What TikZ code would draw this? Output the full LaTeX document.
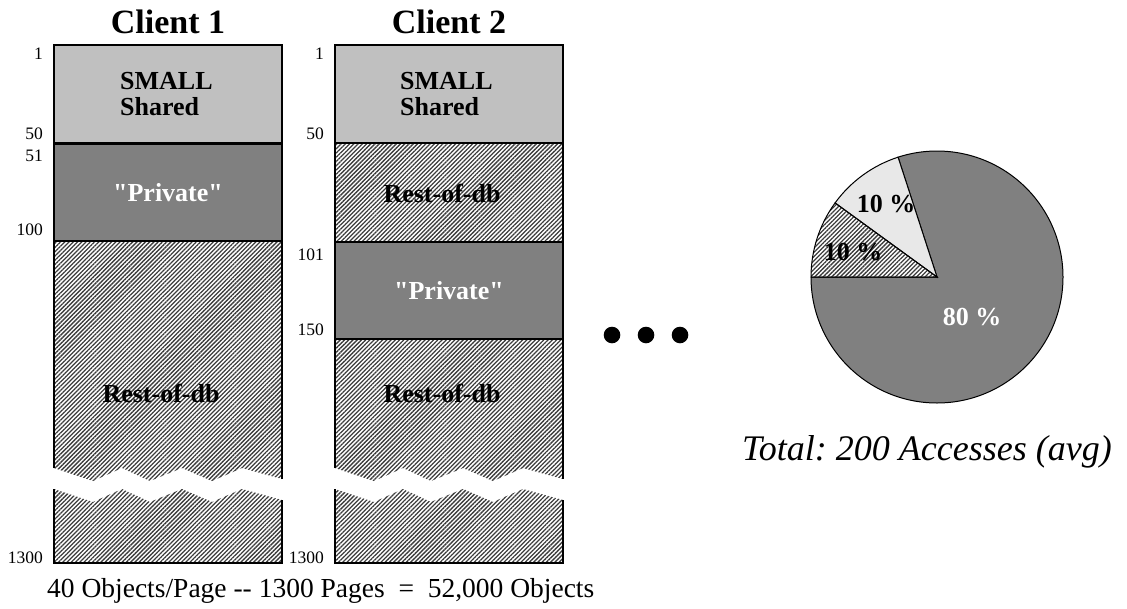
\documentclass[tikz,border=0pt]{standalone}
\usepackage{fontspec}
\setmainfont{Liberation Serif}
\newfontfamily\rawserif{Liberation Serif}[Ligatures=ResetAll]
\usetikzlibrary{patterns.meta}
\definecolor{sharedgray}{HTML}{C0C0C0}
\definecolor{privgray}{HTML}{808080}
\definecolor{lightslice}{HTML}{E8E8E8}
\definecolor{hatchgray}{HTML}{3C3C3C}
\frenchspacing
\newcommand{\dq}{{\rawserif\bfseries\symbol{34}}}
\tikzset{
  seg/.style={draw=black, line width=1.4pt},
  hatch/.style={pattern={Lines[angle=45,distance=3pt,line width=1.3pt]}, pattern color=hatchgray},
  coltitle/.style={font=\fontsize{34}{34}\selectfont\bfseries, anchor=base},
  boxtext/.style={font=\fontsize{26}{26}\selectfont\bfseries, inner sep=0pt},
  pagenum/.style={font=\fontsize{17.5}{17.5}\selectfont, anchor=east, inner sep=0pt},
  dotmark/.style={circle, fill=black, inner sep=0pt, minimum size=16.6pt},
  slice/.style={draw=black, line width=1pt},
}
\begin{document}
\begin{tikzpicture}[x=1pt,y=-1pt]
\useasboundingbox (0,0) rectangle (1127,608);

% ---------- Client 1 ----------
\begin{scope}[shift={(54,0)}]
  \node[coltitle] (title1) at (114,33) {Client 1};
  \path[fill=sharedgray, seg] (0,45) rectangle (228,143);
  \path[fill=privgray, seg] (0,144) rectangle (228,241);
  % upper part of the remaining pages, torn at the bottom
  \fill[hatch] (0,241) -- (228,241) -- (228,479) -- (188,468) -- (158,481) -- (128,468)
       -- (96,481) -- (68,468) -- (39,481) -- (0,468) -- cycle;
  \draw[seg] (0,468) -- (0,241) -- (228,241) -- (228,479);
  % lower part, torn at the top
  \fill[hatch] (0,489) -- (39,502) -- (68,489) -- (96,502) -- (128,489) -- (158,502)
       -- (188,489) -- (228,500) -- (228,563) -- (0,563) -- cycle;
  \draw[seg] (0,489) -- (0,563) -- (228,563) -- (228,500);

  \node[boxtext, align=left, anchor=base west] (shared1) at (66,115) {SMALL\\Shared};
  \node[boxtext, text=white] (priv1) at (114,193) {\dq Private\dq};
  \node[boxtext] (rest1) at (107,393) {Rest-of-db};

  \node[pagenum] (c1p1) at (-11,54) {1};
  \node[pagenum] (c1p50) at (-11,134) {50};
  \node[pagenum] (c1p51) at (-11,156) {51};
  \node[pagenum] (c1p100) at (-11,230) {100};
  \node[pagenum] (c1p1300) at (-11,558) {1300};
\end{scope}

% ---------- Client 2 ----------
\begin{scope}[shift={(335,0)}]
  \node[coltitle] (title2) at (114,33) {Client 2};
  \path[fill=sharedgray, seg] (0,45) rectangle (228,143);
  \path[hatch] (0,143) rectangle (228,242);
  \draw[seg] (0,143) rectangle (228,242);
  \path[fill=privgray, seg] (0,242) rectangle (228,339);
  \fill[hatch] (0,339) -- (228,339) -- (228,479) -- (188,468) -- (158,481) -- (128,468)
       -- (96,481) -- (68,468) -- (39,481) -- (0,468) -- cycle;
  \draw[seg] (0,468) -- (0,339) -- (228,339) -- (228,479);
  \fill[hatch] (0,489) -- (39,502) -- (68,489) -- (96,502) -- (128,489) -- (158,502)
       -- (188,489) -- (228,500) -- (228,563) -- (0,563) -- cycle;
  \draw[seg] (0,489) -- (0,563) -- (228,563) -- (228,500);

  \node[boxtext, align=left, anchor=base west] (shared2) at (65,115) {SMALL\\Shared};
  \node[boxtext] (rest2a) at (107,193) {Rest-of-db};
  \node[boxtext, text=white] (priv2) at (114,291) {\dq Private\dq};
  \node[boxtext] (rest2b) at (107,393) {Rest-of-db};

  \node[pagenum] (c2p1) at (-11,54) {1};
  \node[pagenum] (c2p50) at (-11,134) {50};
  \node[pagenum] (c2p101) at (-11,255) {101};
  \node[pagenum] (c2p150) at (-11,330) {150};
  \node[pagenum] (c2p1300) at (-11,558) {1300};
\end{scope}

% ---------- ellipsis ----------
\node[dotmark] (dotA) at (612,335) {};
\node[dotmark] (dotB) at (646,335) {};
\node[dotmark] (dotC) at (680,335) {};

% ---------- pie of accesses ----------
\begin{scope}[shift={(937,277)}, yscale=-1]
  \path[fill=privgray, slice] (0,0) -- (180:126) arc[start angle=180, end angle=468, radius=126] -- cycle;
  \path[fill=lightslice, slice] (0,0) -- (108:126) arc[start angle=108, end angle=144, radius=126] -- cycle;
  \path[hatch] (0,0) -- (144:126) arc[start angle=144, end angle=180, radius=126] -- cycle;
  \draw[slice] (0,0) -- (144:126) arc[start angle=144, end angle=180, radius=126] -- cycle;
\end{scope}
\node[boxtext] (pctA) at (886,204) {10 \%};
\node[boxtext] (pctB) at (853,252) {10 \%};
\node[boxtext, text=white] (pctC) at (972,317) {80 \%};
\node[font=\fontsize{36}{36}\selectfont\itshape] (total) at (927,452) {Total: 200 Accesses (avg)};

% ---------- footer ----------
\node[font=\fontsize{27.5}{27.5}\selectfont, anchor=base west, inner sep=0pt] (footer) at (47,597)
  {40 Objects/Page {-}{-} 1300 Pages\ \ =\ \ 52,000 Objects};
\end{tikzpicture}
\end{document}
